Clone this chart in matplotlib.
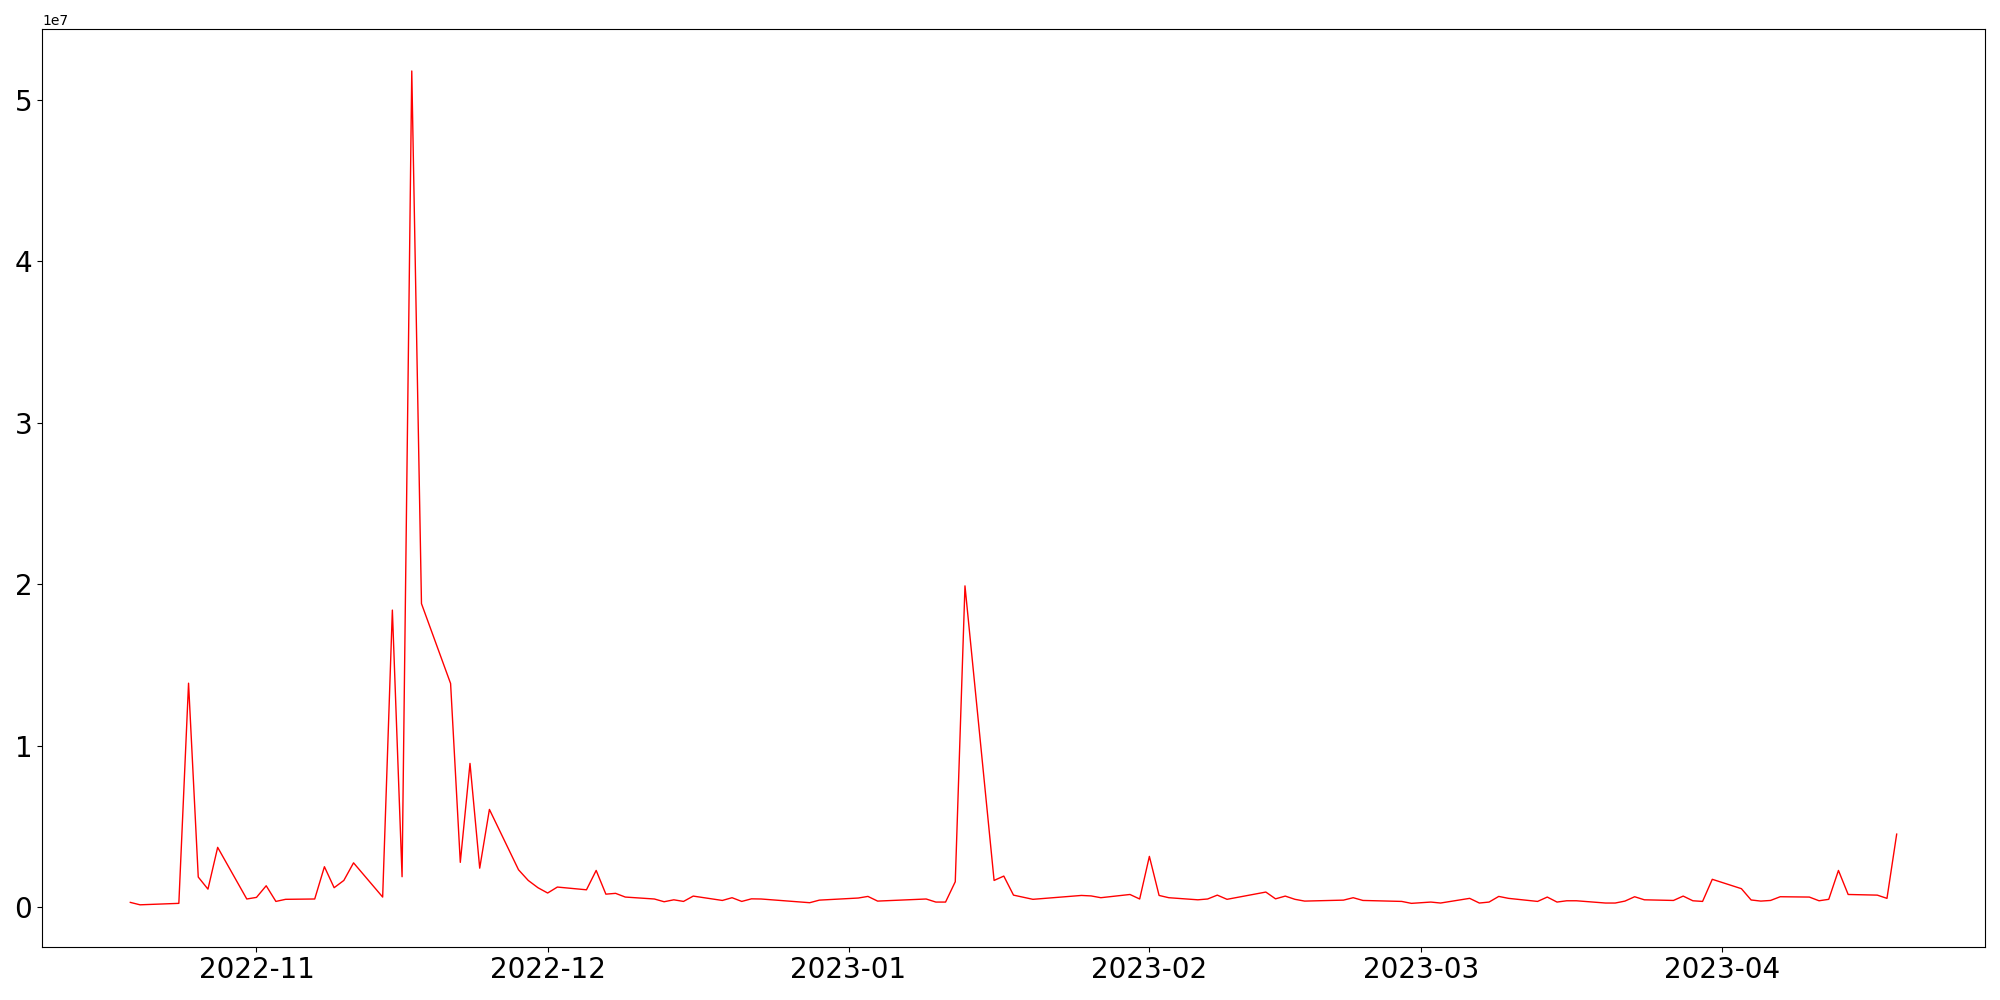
import pandas as pd
import matplotlib
matplotlib.use('Agg')
from matplotlib import pyplot as plt
import matplotlib.dates as mdates

# --- Data (daily values)
dates = [
    '2022-10-19', '2022-10-20', '2022-10-24', '2022-10-25', '2022-10-26', '2022-10-27', '2022-10-28',
    '2022-10-31', '2022-11-01', '2022-11-02', '2022-11-03', '2022-11-04',
    '2022-11-07', '2022-11-08', '2022-11-09', '2022-11-10', '2022-11-11',
    '2022-11-14', '2022-11-15', '2022-11-16', '2022-11-17', '2022-11-18',
    '2022-11-21', '2022-11-22', '2022-11-23', '2022-11-24', '2022-11-25',
    '2022-11-28', '2022-11-29', '2022-11-30', '2022-12-01', '2022-12-02',
    '2022-12-05', '2022-12-06', '2022-12-07', '2022-12-08', '2022-12-09',
    '2022-12-12', '2022-12-13', '2022-12-14', '2022-12-15', '2022-12-16',
    '2022-12-19', '2022-12-20', '2022-12-21', '2022-12-22', '2022-12-23',
    '2022-12-28', '2022-12-29',
    '2023-01-02', '2023-01-03', '2023-01-04',
    '2023-01-09', '2023-01-10', '2023-01-11', '2023-01-12', '2023-01-13',
    '2023-01-16', '2023-01-17', '2023-01-18', '2023-01-20',
    '2023-01-25', '2023-01-26', '2023-01-27',
    '2023-01-30', '2023-01-31', '2023-02-01', '2023-02-02', '2023-02-03',
    '2023-02-06', '2023-02-07', '2023-02-08', '2023-02-09',
    '2023-02-13', '2023-02-14', '2023-02-15', '2023-02-16', '2023-02-17',
    '2023-02-21', '2023-02-22', '2023-02-23',
    '2023-02-27', '2023-02-28', '2023-03-01', '2023-03-02', '2023-03-03',
    '2023-03-06', '2023-03-07', '2023-03-08', '2023-03-09', '2023-03-10',
    '2023-03-13', '2023-03-14', '2023-03-15', '2023-03-16', '2023-03-17',
    '2023-03-20', '2023-03-21', '2023-03-22', '2023-03-23', '2023-03-24',
    '2023-03-27', '2023-03-28', '2023-03-29', '2023-03-30', '2023-03-31',
    '2023-04-03', '2023-04-04', '2023-04-05', '2023-04-06', '2023-04-07',
    '2023-04-10', '2023-04-11', '2023-04-12', '2023-04-13', '2023-04-14',
    '2023-04-17', '2023-04-18', '2023-04-19',
]

values = [
    290000, 140000, 230000, 13870000, 1860000, 1110000, 3700000,
    500000, 600000, 1320000, 350000, 480000,
    500000, 2500000, 1200000, 1650000, 2740000,
    620000, 18400000, 1880000, 51800000, 18800000,
    13850000, 2770000, 8900000, 2410000, 6050000,
    2310000, 1650000, 1200000, 870000, 1240000,
    1070000, 2270000, 800000, 850000, 620000,
    500000, 330000, 450000, 350000, 680000,
    410000, 580000, 350000, 510000, 500000,
    270000, 430000,
    560000, 660000, 370000,
    500000, 310000, 310000, 1570000, 19900000,
    1650000, 1920000, 740000, 480000,
    720000, 690000, 580000,
    780000, 500000, 3140000, 720000, 580000,
    450000, 500000, 740000, 480000,
    930000, 510000, 680000, 480000, 370000,
    430000, 580000, 410000,
    350000, 230000, 270000, 310000, 250000,
    540000, 250000, 310000, 660000, 540000,
    350000, 620000, 310000, 390000, 390000,
    250000, 250000, 370000, 640000, 450000,
    410000, 680000, 390000, 350000, 1720000,
    1140000, 440000, 370000, 410000, 640000,
    620000, 390000, 480000, 2270000, 780000,
    740000, 540000, 4520000,
]

x = pd.to_datetime(dates)

# --- Display
fig, ax = plt.subplots(figsize=(20, 10), dpi=100)
fig.subplots_adjust(left=0.021, right=0.9925, top=0.9707, bottom=0.0535)

ax.plot(x, values, color='red', lw=1)

ax.xaxis.set_major_locator(mdates.MonthLocator())
ax.xaxis.set_major_formatter(mdates.DateFormatter('%Y-%m'))
ax.tick_params(axis='both', labelsize=20)

fig.savefig('out.png', dpi=100)
